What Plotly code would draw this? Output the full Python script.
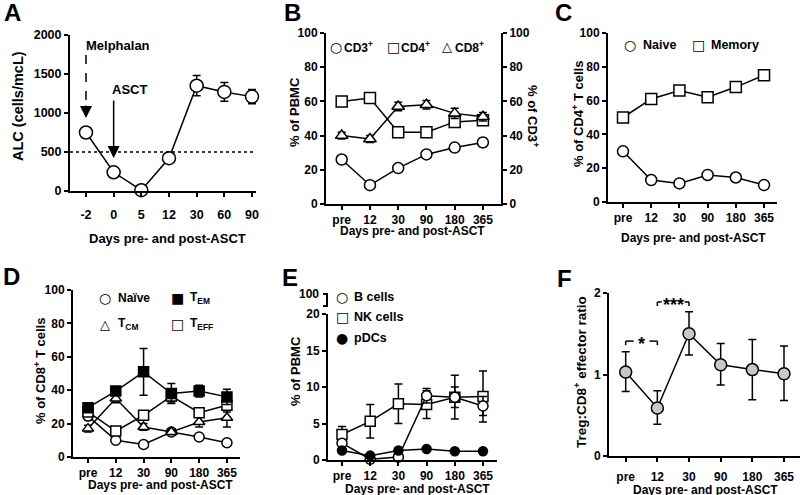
import plotly.graph_objects as go

W, H = 800, 495

# ---------------- data ----------------
# Panel A
a_days = ['-2', '0', '5', '12', '30', '60', '90']
a_alc = [750, 240, 10, 420, 1350, 1270, 1210]
a_err = [0, 0, 0, 0, 130, 120, 90]
a_yticks = [0, 500, 1000, 1500, 2000]

# Shared time points for B-F
days = ['pre', '12', '30', '90', '180', '365']

# Panel B
b_cd3 = [26, 11, 21, 29, 33, 36]
b_cd3_err = [1.5, 1.0, 1.5, 1.5, 2.0, 2.5]
b_cd4 = [60, 62, 42, 42, 48, 49]
b_cd4_err = [1.5, 2.0, 2.0, 1.5, 2.5, 3.0]
b_cd8 = [40, 38, 57, 58, 53, 51]
b_cd8_err = [2.0, 2.0, 2.5, 2.5, 3.0, 2.5]

# Panel C
c_naive = [30, 13, 11, 16, 14.5, 10]
c_naive_err = [1.5, 1.0, 1.0, 1.0, 1.0, 1.0]
c_memory = [50, 61, 66, 62, 68, 75]
c_memory_err = [1.5, 2.0, 2.0, 1.5, 2.0, 1.5]

# Panel D
d_naive = [24.5, 10, 7.5, 15, 12, 8.5]
d_naive_err = [2.0, 1.0, 1.0, 1.5, 1.5, 1.0]
d_tem = [29.5, 39.5, 51, 38, 39.5, 36]
d_tem_err = [2.0, 2.0, 14.0, 6.0, 3.5, 4.5]
d_tcm = [17, 35, 18, 15, 21, 23.5]
d_tcm_err = [2.0, 2.5, 2.0, 1.5, 3.0, 5.5]
d_teff = [27, 15.5, 25, 36.5, 26.5, 31]
d_teff_err = [2.0, 1.5, 2.0, 3.5, 2.0, 4.0]

# Panel E
e_b = [2.3, 0.1, 0.4, 8.8, 8.6, 7.4]
e_b_err = [0.4, 0.1, 0.2, 1.0, 1.4, 1.3]
e_nk = [3.5, 5.3, 7.7, 7.6, 8.6, 8.7]
e_nk_err = [1.1, 2.3, 2.7, 1.9, 3.0, 3.5]
e_pdc = [1.3, 0.6, 1.3, 1.5, 1.2, 1.2]
e_pdc_err = [0.2, 0.1, 0.2, 0.2, 0.2, 0.2]
e_break_label = '100'

# Panel F
f_ratio = [1.03, 0.59, 1.50, 1.12, 1.06, 1.01]
f_err_up = [0.25, 0.21, 0.27, 0.26, 0.37, 0.34]
f_err_dn = [0.24, 0.20, 0.26, 0.25, 0.37, 0.33]

# ---------------- helpers ----------------
FONT = 'Liberation Sans'
TICK = 12


def px(x):
    return x / W


def py(y):
    return 1 - y / H


def xdom(l, r):
    return [px(l), px(r)]


def ydom(top, bottom):
    return [py(bottom), py(top)]


def series(x, y, err, xa, ya, symbol, fill='white', size=10, errminus=None):
    ey = dict(type='data', array=err, color='black', thickness=1.5, width=4, visible=True)
    if errminus is not None:
        ey['arrayminus'] = errminus
        ey['symmetric'] = False
    return go.Scatter(
        x=x, y=y, mode='lines+markers', xaxis=xa, yaxis=ya,
        line=dict(color='black', width=1.5),
        marker=dict(symbol=symbol, size=size, color=fill,
                    line=dict(color='black', width=1.5)),
        error_y=ey, showlegend=False, cliponaxis=False, hoverinfo='x+y')


def xax(dom, rng, anchor, standoff=0, size=TICK):
    return dict(domain=dom, range=rng, type='category', anchor=anchor, automargin=False,
                showline=True, linecolor='black', linewidth=2,
                ticks='outside', ticklen=4, tickwidth=2, tickcolor='black',
                showgrid=False, zeroline=False, ticklabelstandoff=standoff,
                tickfont=dict(family=FONT, size=size, color='black', weight='bold'))


def yax(dom, rng, anchor, tickvals, ticktext=None, size=TICK, **kw):
    d = dict(domain=dom, range=rng, anchor=anchor, automargin=False,
             showline=True, linecolor='black', linewidth=2,
             ticks='outside', ticklen=4, tickwidth=2, tickcolor='black',
             showgrid=False, zeroline=False, tickvals=tickvals,
             tickfont=dict(family=FONT, size=size, color='black', weight='bold'))
    if ticktext is not None:
        d['ticktext'] = ticktext
    d.update(kw)
    return d


annotations = []
shapes = []


def text(x, y, s, size=12, angle=0, xanchor='center', family=FONT):
    annotations.append(dict(
        x=px(x), y=py(y), xref='paper', yref='paper', text=s, showarrow=False,
        textangle=angle, xanchor=xanchor, yanchor='middle',
        font=dict(family=family, size=size, color='black', weight='bold')))


def sym(x, y, s, size=14):
    annotations.append(dict(
        x=px(x), y=py(y), xref='paper', yref='paper', text=s, showarrow=False,
        xanchor='center', yanchor='middle',
        font=dict(family='DejaVu Sans', size=size, color='black')))


def seg(x0, y0, x1, y1, width=2):
    shapes.append(dict(type='line', xref='paper', yref='paper',
                       x0=px(x0), y0=py(y0), x1=px(x1), y1=py(y1),
                       line=dict(color='black', width=width)))


# ---------------- traces ----------------
traces = []
# A
traces.append(series(a_days, a_alc, a_err, 'x', 'y', 'circle', size=13))
# B
traces.append(series(days, b_cd3, b_cd3_err, 'x2', 'y2', 'circle', size=11))
traces.append(series(days, b_cd4, b_cd4_err, 'x2', 'y3', 'square', size=11))
traces.append(series(days, b_cd8, b_cd8_err, 'x2', 'y3', 'triangle-up', size=11))
# C
traces.append(series(days, c_naive, c_naive_err, 'x3', 'y4', 'circle', size=11))
traces.append(series(days, c_memory, c_memory_err, 'x3', 'y4', 'square', size=11))
# D
traces.append(series(days, d_naive, d_naive_err, 'x4', 'y5', 'circle', size=10))
traces.append(series(days, d_tcm, d_tcm_err, 'x4', 'y5', 'triangle-up', size=10))
traces.append(series(days, d_teff, d_teff_err, 'x4', 'y5', 'square', size=10))
traces.append(series(days, d_tem, d_tem_err, 'x4', 'y5', 'square', fill='black', size=10))
# E
traces.append(series(days, e_nk, e_nk_err, 'x5', 'y6', 'square', size=10))
traces.append(series(days, e_b, e_b_err, 'x5', 'y6', 'circle', size=10))
traces.append(series(days, e_pdc, e_pdc_err, 'x5', 'y6', 'circle', fill='black', size=9))
# F
traces.append(series(days, f_ratio, f_err_up, 'x6', 'y8', 'circle', fill='#c8c8c8', size=12,
                     errminus=f_err_dn))

fig = go.Figure(traces)

layout = dict(
    width=W, height=H, margin=dict(l=0, r=0, t=0, b=0, autoexpand=False),
    paper_bgcolor='white', plot_bgcolor='white', template='none',
    showlegend=False,
    # A
    xaxis=xax(xdom(70, 256), [-0.578, 6.145], 'y', standoff=7, size=12.5),
    yaxis=yax(ydom(35, 191), [0, 2000], 'x', a_yticks, size=12.5),
    # B
    xaxis2=xax(xdom(326, 501), [-0.556, 5.64], 'y2', standoff=0),
    yaxis2=yax(ydom(33, 204), [0, 100], 'x2', [0, 20, 40, 60, 80, 100]),
    yaxis3=yax(ydom(33, 204), [0, 100], 'x2', [0, 20, 40, 60, 80, 100],
               overlaying='y2', side='right'),
    # C
    xaxis3=xax(xdom(608, 777), [-0.532, 5.46], 'y4'),
    yaxis4=yax(ydom(33, 202), [0, 100], 'x3', [0, 20, 40, 60, 80, 100]),
    # D
    xaxis4=xax(xdom(73, 240), [-0.54, 5.47], 'y5'),
    yaxis5=yax(ydom(290, 457), [0, 100], 'x4', [0, 20, 40, 60, 80, 100]),
    # E (lower 0-20 segment of a broken axis)
    xaxis5=xax(xdom(328, 497), [-0.496, 5.496], 'y6'),
    yaxis6=yax(ydom(314, 460), [0, 20], 'x5', [0, 5, 10, 15, 20]),
    # F
    xaxis6=xax(xdom(609, 800), [-0.527, 5.505], 'y8', standoff=5),
    yaxis8=yax(ydom(293, 456), [0, 2], 'x6', [0, 1, 2]),
)
fig.update_layout(**layout)

# upper segment of panel E's broken axis ("]" shape) with its 100 label
seg(327, 293, 327, 307)
seg(323, 294, 327, 294)
seg(323, 306, 327, 306)
text(321, 294, e_break_label, size=TICK, xanchor='right')

# ---------------- panel letters ----------------
for lx, ly, s in [(12, 13, 'A'), (292, 13, 'B'), (563, 13, 'C'),
                  (11, 276, 'D'), (290, 277, 'E'), (564, 278, 'F')]:
    text(lx, ly, s, size=24)

# ---------------- axis titles ----------------
xt = 'Days pre- and post-ASCT'
text(167, 238, xt, size=13)
text(412, 231, xt)
text(693, 238, xt)
text(160, 485, xt)
text(417, 489, xt)
text(705, 490, xt)

text(18, 106, 'ALC (cells/mcL)', size=14.5, angle=-90)
text(294, 112, '% of PBMC', size=13, angle=-90)
text(533, 116, '% of CD3<sup>+</sup>', size=13, angle=90)
text(578, 114, '% of CD4<sup>+</sup> T cells', size=13, angle=-90)
text(40, 371, '% of CD8<sup>+</sup> T cells', size=13, angle=-90)
text(295, 371, '% of PBMC', size=13, angle=-90)
text(580, 372, 'Treg:CD8<sup>+</sup> effector ratio', size=13.5, angle=-90)

# ---------------- legends ----------------
# B
sym(336, 47, '○'); text(342, 47, 'CD3<sup>+</sup>', xanchor='left')
sym(393, 47, '□'); text(399, 47, 'CD4<sup>+</sup>', xanchor='left')
sym(447, 47, '△', size=13); text(453, 47, 'CD8<sup>+</sup>', xanchor='left')
# C
sym(630, 45, '○'); text(641, 45, 'Naive', xanchor='left', size=12.5)
sym(698, 45, '□'); text(709, 45, 'Memory', xanchor='left', size=12.5)
# D
sym(105, 298, '○'); text(116, 298, 'Naïve', xanchor='left')
sym(177, 298, '■'); text(188, 298, 'T<sub>EM</sub>', xanchor='left')
sym(105, 324, '△', size=13); text(116, 324, 'T<sub>CM</sub>', xanchor='left')
sym(177, 324, '□'); text(188, 324, 'T<sub>EFF</sub>', xanchor='left')
# E
sym(342, 297, '○'); text(352, 297, 'B cells', xanchor='left', size=12.5)
sym(342, 317, '□'); text(352, 317, 'NK cells', xanchor='left', size=12.5)
sym(342, 338, '●'); text(352, 338, 'pDCs', xanchor='left', size=12.5)

# ---------------- panel A annotations ----------------
# category positions on panel A axis: index 0 = day -2 (Melphalan), index 1 = day 0 (ASCT)
MEL_IDX, ASCT_IDX = 0, 1
text(118, 45, 'Melphalan', size=13)
text(129, 89, 'ASCT', size=13)
shapes.append(dict(type='line', xref='x domain', yref='y', x0=0, x1=1, y0=500, y1=500,
                   line=dict(color='black', width=1.5, dash='dot')))
shapes.append(dict(type='line', xref='x', yref='y', x0=MEL_IDX, x1=MEL_IDX, y0=1744, y1=1030,
                   line=dict(color='black', width=1.5, dash='dash')))
annotations.append(dict(x=MEL_IDX, y=936, xref='x', yref='y', ax=0, ay=-14, text='',
                        showarrow=True, arrowhead=2, arrowsize=1.6, arrowwidth=1.5,
                        arrowcolor='black', standoff=0))
annotations.append(dict(x=ASCT_IDX, y=423, xref='x', yref='y', ax=0, ay=-59, text='',
                        showarrow=True, arrowhead=2, arrowsize=1.6, arrowwidth=1.5,
                        arrowcolor='black', standoff=0))

# ---------------- panel F significance brackets ----------------
def bracket(x0, x1, y, gap, tick=0.05):
    lw = dict(color='black', width=1.5)
    xm = (x0 + x1) / 2
    shapes.append(dict(type='line', xref='x6', yref='y8', x0=x0, x1=xm - gap, y0=y, y1=y, line=lw))
    shapes.append(dict(type='line', xref='x6', yref='y8', x0=xm + gap, x1=x1, y0=y, y1=y, line=lw))
    shapes.append(dict(type='line', xref='x6', yref='y8', x0=x0, x1=x0, y0=y, y1=y - tick, line=lw))
    shapes.append(dict(type='line', xref='x6', yref='y8', x0=x1, x1=x1, y0=y, y1=y - tick, line=lw))


bracket(0, 1, 1.41, 0.25)
bracket(1, 2, 1.89, 0.36)
annotations.append(dict(x=0.5, y=1.41, xref='x6', yref='y8', text='*', showarrow=False,
                        yanchor='middle', yshift=-3,
                        font=dict(family=FONT, size=18, color='black', weight='bold')))
annotations.append(dict(x=1.5, y=1.89, xref='x6', yref='y8', text='***', showarrow=False,
                        yanchor='middle', yshift=-3,
                        font=dict(family=FONT, size=18, color='black', weight='bold')))

fig.update_layout(annotations=annotations, shapes=shapes)
fig.write_html('out.html', config={'displayModeBar': False},
               post_script="document.body.style.margin='0';")
